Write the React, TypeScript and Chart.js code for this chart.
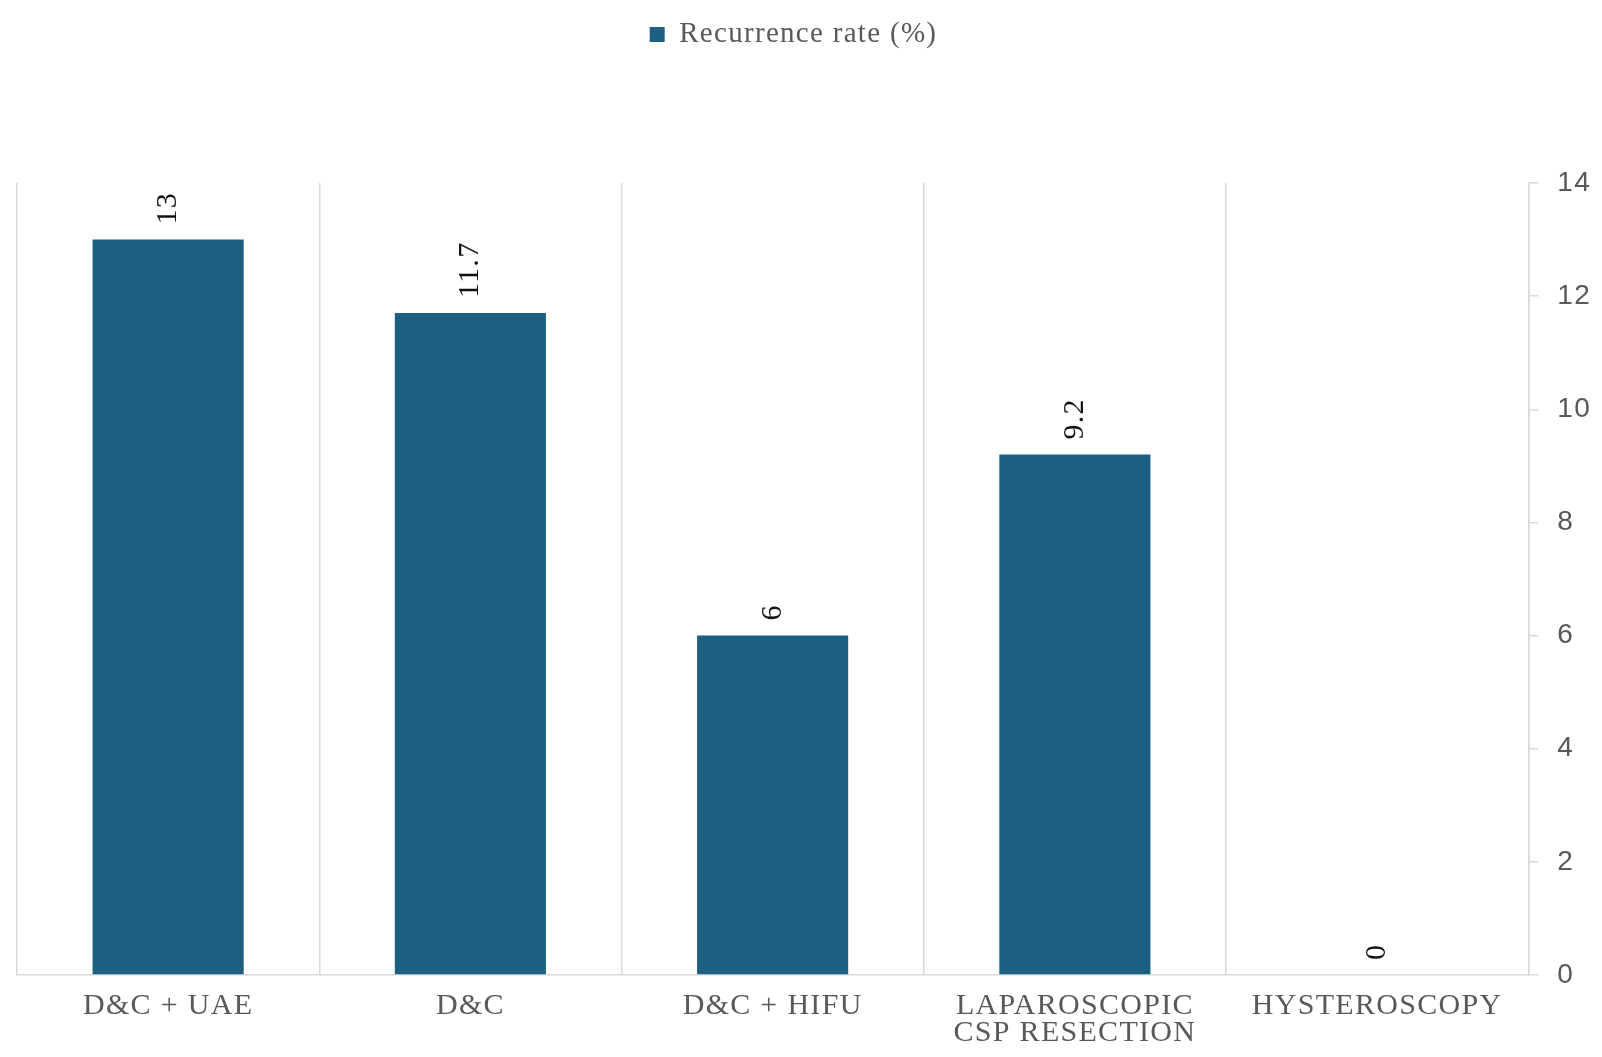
import React, { useEffect, useRef } from "react";
import { Chart, registerables } from "chart.js";

Chart.register(...registerables);

const categories: (string | string[])[] = [
  "D&C + UAE",
  "D&C",
  "D&C + HIFU",
  ["LAPAROSCOPIC", "CSP RESECTION"],
  "HYSTEROSCOPY",
];
const recurrenceRate = [13, 11.7, 6, 9.2, 0];
const seriesName = "Recurrence rate (%)";
const yMin = 0;
const yMax = 14;
const yStep = 2;

const BAR = "#1c5f80";
const GREY_TEXT = "#595959";
const GRID = "#d9d9d9";
const SERIF = "'Liberation Serif', 'DejaVu Serif', serif";
const SANS = "'Liberation Sans', Arial, sans-serif";

// wide letter spacing like the original, extra room under the legend,
// and the legend nudged a little left of centre
const spacingPlugin = {
  id: "spacing",
  beforeInit(chart: any) {
    const legend = chart.legend;
    if (legend) {
      const origFit = legend.fit;
      legend.fit = function () {
        origFit.call(this);
        this.height += 124;
      };
    }
  },
  beforeLayout(chart: any) {
    chart.ctx.letterSpacing = "1.3px";
  },
  afterLayout(chart: any) {
    const legend = chart.legend;
    if (legend) {
      legend.left -= 20;
      legend.right -= 20;
    }
  },
  beforeDraw(chart: any) {
    chart.ctx.letterSpacing = "1.3px";
  },
};

// vertical value labels above the bars
const valueLabels = {
  id: "valueLabels",
  afterDatasetsDraw(chart: any) {
    const ctx = chart.ctx;
    const meta = chart.getDatasetMeta(0);
    ctx.save();
    ctx.font = `30px ${SERIF}`;
    ctx.fillStyle = "#111111";
    ctx.textAlign = "left";
    ctx.textBaseline = "middle";
    meta.data.forEach((bar: any, i: number) => {
      const { x, y } = bar.getProps(["x", "y"], true);
      ctx.save();
      ctx.translate(x, y - 15);
      ctx.rotate(-Math.PI / 2);
      ctx.fillText(String(recurrenceRate[i]), 0, 0);
      ctx.restore();
    });
    ctx.restore();
  },
};

const RecurrenceChart: React.FC = () => {
  const canvasRef = useRef<HTMLCanvasElement>(null);
  const chartRef = useRef<Chart | null>(null);

  useEffect(() => {
    if (!canvasRef.current) return;
    if (chartRef.current) chartRef.current.destroy();

    chartRef.current = new Chart(canvasRef.current, {
      type: "bar",
      data: {
        labels: categories,
        datasets: [
          {
            label: seriesName,
            data: recurrenceRate,
            backgroundColor: BAR,
            borderWidth: 0,
            barPercentage: 0.5,
            categoryPercentage: 1,
          },
        ],
      },
      options: {
        animation: false,
        responsive: true,
        maintainAspectRatio: false,
        layout: { padding: { top: 10, left: 17, right: -8, bottom: -8 } },
        plugins: {
          tooltip: { enabled: false },
          legend: {
            display: true,
            position: "top",
            labels: {
              boxWidth: 15,
              boxHeight: 15,
              color: GREY_TEXT,
              font: { family: SERIF, size: 29 },
              padding: 10,
            },
          },
        },
        scales: {
          x: {
            offset: true,
            grid: {
              display: true,
              offset: true,
              color: GRID,
              lineWidth: 1.5,
              drawTicks: false,
            },
            border: { display: true, color: GRID, width: 1.5 },
            ticks: {
              color: GREY_TEXT,
              font: { family: SERIF, size: 30, lineHeight: 0.9 },
              padding: 18,
              maxRotation: 0,
              autoSkip: false,
            },
          },
          y: {
            position: "right",
            min: yMin,
            max: yMax,
            grid: {
              drawOnChartArea: false,
              drawTicks: true,
              tickLength: 10,
              color: GRID,
              lineWidth: 1.5,
            },
            border: { display: true, color: GRID, width: 1.5 },
            ticks: {
              stepSize: yStep,
              color: GREY_TEXT,
              font: { family: SANS, size: 28 },
              padding: 19,
            },
          },
        },
      },
      plugins: [spacingPlugin, valueLabels],
    });

    return () => {
      chartRef.current?.destroy();
      chartRef.current = null;
    };
  }, []);

  return (
    <div style={{ position: "relative", width: "1602px", height: "1057px", background: "#ffffff" }}>
      <canvas ref={canvasRef} />
    </div>
  );
};

export default function App() {
  useEffect(() => {
    document.body.style.margin = "0";
  }, []);
  return <RecurrenceChart />;
}
